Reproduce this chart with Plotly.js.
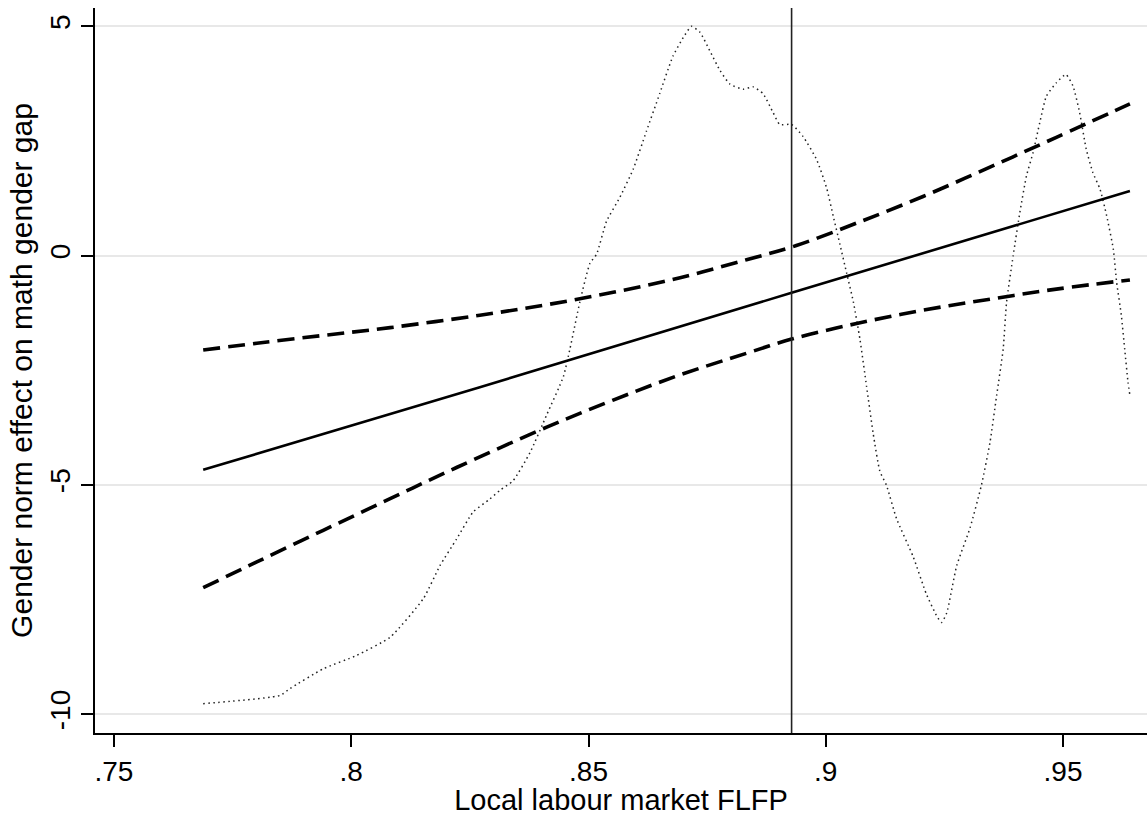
<!DOCTYPE html>
<html>
<head>
<meta charset="utf-8">
<script src="https://cdn.plot.ly/plotly-3.0.1.min.js"></script>
<style>html,body{margin:0;padding:0;background:#fff;}#chart{width:1147px;height:816px;}</style>
</head>
<body>
<div id="chart"></div>
<script>
// Marginal effect (solid)
const effectX = [0.7688, 0.8271, 0.8928, 0.9641];
const effectY = [-4.67, -2.87, -0.81, 1.41];

// Upper 95% CI (dashed)
const upperX = [0.7688, 0.7801, 0.7941, 0.8082, 0.8271, 0.8412, 0.8552, 0.8693, 0.8833, 0.8938, 0.9065, 0.9205, 0.9346, 0.9486, 0.9641];
const upperY = [-2.06, -1.91, -1.74, -1.57, -1.30, -1.07, -0.80, -0.48, -0.09, 0.22, 0.71, 1.29, 1.93, 2.58, 3.31];

// Lower 95% CI (dashed)
const lowerX = [0.7688, 0.7801, 0.7941, 0.8082, 0.8222, 0.8412, 0.8552, 0.8693, 0.8833, 0.8928, 0.9065, 0.9205, 0.9346, 0.9486, 0.9641];
const lowerY = [-7.24, -6.68, -5.99, -5.30, -4.62, -3.74, -3.15, -2.60, -2.13, -1.82, -1.48, -1.19, -0.95, -0.73, -0.53];

// Density of FLFP (dotted, rescaled to the y axis)
const densX = [0.7688, 0.7850, 0.7871, 0.7941, 0.8011, 0.8082, 0.8152, 0.8187, 0.8222, 0.8257, 0.8292, 0.8313, 0.8341, 0.8377, 0.8412, 0.8447, 0.8461, 0.8482, 0.8503, 0.8517, 0.8538, 0.8566, 0.8594, 0.8622, 0.8650, 0.8678, 0.8700, 0.8717, 0.8735, 0.8756, 0.8777, 0.8798, 0.8826, 0.8847, 0.8868, 0.8889, 0.8903, 0.8928, 0.8952, 0.8981, 0.9002, 0.9016, 0.9030, 0.9044, 0.9058, 0.9072, 0.9086, 0.9100, 0.9114, 0.9128, 0.9149, 0.9184, 0.9212, 0.9233, 0.9244, 0.9255, 0.9276, 0.9304, 0.9328, 0.9346, 0.9360, 0.9374, 0.9381, 0.9395, 0.9409, 0.9423, 0.9437, 0.9451, 0.9465, 0.9486, 0.9506, 0.9521, 0.9535, 0.9549, 0.9563, 0.9578, 0.9592, 0.9606, 0.9613, 0.9623, 0.9630, 0.9637, 0.9641];
const densY = [-9.77, -9.59, -9.44, -9.01, -8.72, -8.32, -7.48, -6.76, -6.18, -5.59, -5.31, -5.12, -4.91, -4.29, -3.47, -2.64, -2.03, -1.00, -0.17, 0.03, 0.75, 1.27, 1.88, 2.71, 3.53, 4.35, 4.76, 5.00, 4.87, 4.46, 4.04, 3.74, 3.63, 3.68, 3.53, 3.12, 2.86, 2.86, 2.60, 2.09, 1.47, 0.85, 0.24, -0.38, -1.00, -1.82, -2.85, -3.88, -4.70, -5.01, -5.73, -6.56, -7.38, -7.84, -8.00, -7.79, -6.76, -5.94, -5.01, -4.08, -3.06, -2.03, -1.02, 0.00, 0.94, 1.74, 2.25, 2.90, 3.48, 3.77, 3.95, 3.70, 3.12, 2.32, 1.81, 1.45, 0.87, 0.14, -0.58, -1.31, -2.04, -2.76, -3.05];

// Reference line (vertical)
const refLineX = 0.8928;

// Axis ticks
const xTickVals = [0.75, 0.8, 0.85, 0.9, 0.95];
const xTickText = ['.75', '.8', '.85', '.9', '.95'];
const yTickVals = [-10, -5, 0, 5];
const yTickText = ['-10', '-5', '0', '5'];

const FONT = 'Liberation Sans, Arial, Helvetica, sans-serif';

const traces = [
  {x: densX, y: densY, mode: 'lines', type: 'scatter', hoverinfo: 'skip',
   line: {color: '#222', width: 1.5, dash: '1.5px,3.5px', shape: 'spline', smoothing: 0.5}},
  {x: upperX, y: upperY, mode: 'lines', type: 'scatter',
   line: {color: '#000', width: 3.6, dash: '17px,8px', shape: 'spline', smoothing: 1}},
  {x: lowerX, y: lowerY, mode: 'lines', type: 'scatter',
   line: {color: '#000', width: 3.6, dash: '17px,8px', shape: 'spline', smoothing: 1}},
  {x: effectX, y: effectY, mode: 'lines', type: 'scatter',
   line: {color: '#000', width: 2.6}}
];

const layout = {
  width: 1147, height: 816,
  margin: {l: 95, r: 0, t: 8, b: 83, pad: 0},
  paper_bgcolor: '#fff', plot_bgcolor: '#fff',
  showlegend: false,
  font: {family: FONT, color: '#000', size: 28},
  xaxis: {
    range: [0.746, 0.9677], tickvals: xTickVals, ticktext: xTickText,
    showgrid: false, zeroline: false, showline: true, linecolor: '#000', linewidth: 2,
    ticks: 'outside', ticklen: 12, tickwidth: 2, tickcolor: '#000',
    tickfont: {family: FONT, size: 28, color: '#000'},
    title: {text: 'Local labour market FLFP', font: {family: FONT, size: 29, color: '#000'}, standoff: 3},
    automargin: false
  },
  yaxis: {
    range: [-10.41, 5.40], tickvals: yTickVals, ticktext: yTickText, tickangle: -90,
    showgrid: true, gridcolor: '#e8e8e8', gridwidth: 2, zeroline: false,
    showline: true, linecolor: '#000', linewidth: 2,
    ticks: 'outside', ticklen: 12, tickwidth: 2, tickcolor: '#000',
    tickfont: {family: FONT, size: 28, color: '#000'},
    title: {text: 'Gender norm effect on math gender gap', font: {family: FONT, size: 30, color: '#000'}, standoff: 3},
    automargin: false
  },
  shapes: [{type: 'line', xref: 'x', yref: 'paper', x0: refLineX, x1: refLineX, y0: 0, y1: 1,
            line: {color: '#222', width: 1.6}}]
};

Plotly.newPlot('chart', traces, layout, {displayModeBar: false, staticPlot: true});
</script>
</body>
</html>
